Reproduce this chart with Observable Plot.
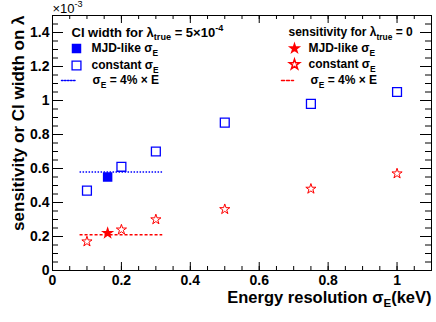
<!DOCTYPE html>
<html>
<head>
<meta charset="utf-8">
<script src="https://cdn.jsdelivr.net/npm/d3@7"></script>
<script src="https://cdn.jsdelivr.net/npm/@observablehq/plot@0.6"></script>
<style>
  html, body { margin: 0; padding: 0; background: #fff; }
  svg { display: block; font-family: "Liberation Sans", Arial, sans-serif; }
</style>
</head>
<body>
<div id="chart"></div>
<script>
// ---- data (CI width / sensitivity on lambda, in units of 1e-3) ----
const sigmaE = [0.1, 0.2, 0.3, 0.5, 0.75, 1.0];
const ciConstant = [0.47, 0.61, 0.70, 0.87, 0.98, 1.05];
const sensConstant = [0.17, 0.24, 0.30, 0.36, 0.48, 0.57];
const sigmaMJD = [0.16];
const ciMJD = [0.55];
const sensMJD = [0.22];
const pctRange = [0.08, 0.32];
const ciPct = [0.58];
const sensPct = [0.21];

const xTicks = [0, 0.2, 0.4, 0.6, 0.8, 1];
const yTicks = [0, 0.2, 0.4, 0.6, 0.8, 1, 1.2, 1.4];
const xDomain = [0, 1.1];
const yDomain = [0, 1.5];

const W = 436, H = 322, mL = 52, mR = 5, mT = 15, mB = 52;
const pw = W - mL - mR, ph = H - mT - mB;
const blue = "#0000ff", red = "#ff0000";
const fmt = d3.format("~g");

const xMinor = d3.range(0, 1.1 + 1e-9, 0.05);
const yMinor = d3.range(0, 1.5 + 1e-9, 0.05);

const ciConstData = sigmaE.map((x, i) => ({x, y: ciConstant[i]}));
const sensConstData = sigmaE.map((x, i) => ({x, y: sensConstant[i]}));
const ciMJDData = sigmaMJD.map((x, i) => ({x, y: ciMJD[i]}));
const sensMJDData = sigmaMJD.map((x, i) => ({x, y: sensMJD[i]}));

const lineShape = {draw(ctx, l) { ctx.moveTo(0, 0); ctx.lineTo(0, -l); }};

function legendText(t, dx, dy, fontSize = 12) {
  return Plot.text([t], {text: d => d, frameAnchor: "top-left", dx, dy, textAnchor: "start",
    lineAnchor: "middle", fontSize, fontWeight: "bold", fill: "black"});
}

const plot = Plot.plot({
  width: W, height: H,
  marginLeft: mL, marginRight: mR, marginTop: mT, marginBottom: mB,
  style: {fontFamily: "Liberation Sans, Arial, sans-serif", background: "white"},
  x: {domain: xDomain},
  y: {domain: yDomain},
  marks: [
    // ticks (inward, ROOT style, all four sides)
    Plot.ruleX(xTicks, {insetTop: ph - 8, stroke: "black"}),
    Plot.ruleX(xTicks, {insetBottom: ph - 8, stroke: "black"}),
    Plot.ruleX(xMinor, {insetTop: ph - 4, stroke: "black"}),
    Plot.ruleX(xMinor, {insetBottom: ph - 4, stroke: "black"}),
    Plot.ruleY(yTicks, {insetRight: pw - 11, stroke: "black"}),
    Plot.ruleY(yTicks, {insetLeft: pw - 11, stroke: "black"}),
    Plot.ruleY(yMinor, {insetRight: pw - 6, stroke: "black"}),
    Plot.ruleY(yMinor, {insetLeft: pw - 6, stroke: "black"}),
    Plot.axisX({ticks: xTicks, tickFormat: fmt, tickSize: 0, tickPadding: 5, fontSize: 14, fontWeight: "bold", label: null}),
    Plot.axisY({ticks: yTicks, tickFormat: fmt, tickSize: 0, tickPadding: 3, fontSize: 14, fontWeight: "bold", label: null}),
    Plot.frame({stroke: "black"}),
    // 4% x E lines
    Plot.ruleY(ciPct, {x1: pctRange[0], x2: pctRange[1], stroke: blue, strokeDasharray: "1.5,1.5", strokeWidth: 1.5}),
    Plot.ruleY(sensPct, {x1: pctRange[0], x2: pctRange[1], stroke: red, strokeDasharray: "3,2", strokeWidth: 1.5}),
    // data
    Plot.dot(ciConstData, {x: "x", y: "y", symbol: "square", r: 5, stroke: blue, fill: "none", strokeWidth: 1.3}),
    Plot.dot(ciMJDData, {x: "x", y: "y", symbol: "square", r: 4.5, fill: blue, stroke: blue}),
    Plot.dot(sensConstData, {x: "x", y: "y", symbol: "star", r: 3.2, stroke: red, fill: "none", strokeWidth: 1}),
    Plot.dot(sensMJDData, {x: "x", y: "y", symbol: "star", r: 2.7, fill: red, stroke: red}),
    // exponent
    Plot.text(["×10^{-3}"], {text: d => d, frameAnchor: "top-left", dx: 0, dy: -3, textAnchor: "start",
      lineAnchor: "bottom", fontSize: 13, fill: "black"}),
    // axis titles
    Plot.text(["Energy resolution σ_{E}(keV)"], {text: d => d, frameAnchor: "bottom-right", dx: 0, dy: 32,
      textAnchor: "end", lineAnchor: "bottom", fontSize: 16.5, fontWeight: "bold", fill: "black"}),
    Plot.text(["sensitivity or CI width on λ"], {text: d => d, frameAnchor: "top-left", dx: -29, dy: 0,
      rotate: -90, textAnchor: "end", lineAnchor: "bottom", fontSize: 17, fontWeight: "bold", fill: "black",
      letterSpacing: "1.1px"}),
    // left legend
    legendText("CI width for λ_{true} = 5×10^{-4}", 19, 17, 13),
    Plot.dot([0], {frameAnchor: "top-left", dx: 24, dy: 33, symbol: "square", r: 4.5, fill: blue, stroke: blue}),
    legendText("MJD-like σ_{E}", 39, 33),
    Plot.dot([0], {frameAnchor: "top-left", dx: 24, dy: 50, symbol: "square", r: 5, fill: "none", stroke: blue, strokeWidth: 1.3}),
    legendText("constant σ_{E}", 39, 50),
    Plot.vector([0], {frameAnchor: "top-left", dx: 16, dy: 65, rotate: 90, length: 14, shape: lineShape,
      stroke: blue, strokeDasharray: "1.5,1.5", strokeWidth: 1.5}),
    legendText("σ_{E} = 4% × E", 40, 65),
    // right legend
    legendText("sensitivity for λ_{true} = 0", 236, 17, 12),
    Plot.dot([0], {frameAnchor: "top-left", dx: 242, dy: 33, symbol: "star", r: 2.7, fill: red, stroke: red}),
    legendText("MJD-like σ_{E}", 256, 33),
    Plot.dot([0], {frameAnchor: "top-left", dx: 242, dy: 49, symbol: "star", r: 3.2, fill: "none", stroke: red}),
    legendText("constant σ_{E}", 256, 49),
    Plot.vector([0], {frameAnchor: "top-left", dx: 235, dy: 65, rotate: 90, length: 12, shape: lineShape,
      stroke: red, strokeDasharray: "3,2", strokeWidth: 1.5}),
    legendText("σ_{E} = 4% × E", 258, 65)
  ]
});

// rich text: convert _{..} and ^{..} into sub/superscript tspans
plot.querySelectorAll("text").forEach(el => {
  const s = el.textContent;
  if (!/[_^]\{/.test(s)) return;
  while (el.firstChild) el.removeChild(el.firstChild);
  const ns = "http://www.w3.org/2000/svg";
  const re = /([_^])\{([^}]*)\}/g;
  let last = 0, m, shifted = 0;
  const add = (txt, dy, small) => {
    const t = document.createElementNS(ns, "tspan");
    t.textContent = txt;
    if (dy) t.setAttribute("dy", dy + "em");
    if (small) t.setAttribute("font-size", "70%");
    el.appendChild(t);
  };
  while ((m = re.exec(s))) {
    if (m.index > last) { add(s.slice(last, m.index), shifted ? -shifted : 0, false); shifted = 0; }
    const sub = m[1] === "_";
    const a = sub ? 0.38 : -0.6; // in small-font em
    add(m[2], shifted ? a - shifted / 0.7 : a, true);
    shifted = a * 0.7;
    last = re.lastIndex;
  }
  if (last < s.length) add(s.slice(last), shifted ? -shifted : 0, false);
});

document.getElementById("chart").appendChild(plot);
</script>
</body>
</html>
